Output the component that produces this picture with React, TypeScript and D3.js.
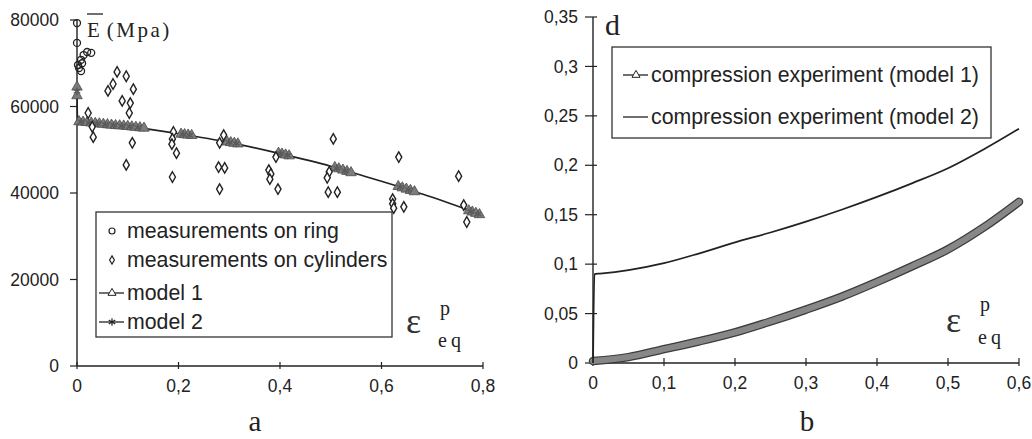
import React from 'react';
import * as d3 from 'd3';

// chart a: mean modulus vs equivalent plastic strain
const ringPoints: [number, number][] = [
  [0, 79300], [0, 74700], [0.002, 69600], [0.004, 68900], [0.008, 68200],
  [0.01, 70000], [0.013, 71900], [0.02, 72600], [0.028, 72400], [0.008, 70800],
];
const cylinderPoints: [number, number][] = [
  [0.022, 58500], [0.03, 55300], [0.032, 52900], [0.061, 63600], [0.071, 65200],
  [0.079, 68000], [0.097, 67000], [0.111, 64000], [0.089, 61300], [0.105, 60800],
  [0.103, 58500], [0.109, 51600], [0.097, 46500],
  [0.19, 54100], [0.188, 52500], [0.187, 51300], [0.196, 49200], [0.188, 43700],
  [0.289, 53400], [0.281, 51600], [0.279, 46000], [0.291, 45800], [0.281, 40900],
  [0.392, 48300], [0.378, 45300], [0.382, 44400], [0.38, 43200], [0.396, 40900],
  [0.505, 52500], [0.497, 44900], [0.493, 43500], [0.495, 40200], [0.513, 40200],
  [0.634, 48300], [0.622, 38600], [0.622, 37500], [0.624, 36500], [0.644, 36800],
  [0.752, 43900], [0.762, 37200], [0.768, 33300],
];
const modelLine: [number, number][] = [
  [0, 64500], [0.001, 56600], [0.1, 55400], [0.2, 53700], [0.3, 51700],
  [0.4, 49100], [0.5, 46200], [0.6, 42700], [0.7, 39000], [0.8, 34800],
];
const model1Markers: [number, number][] = [
  [0, 64500], [0, 62500],
  [0.004, 56500], [0.012, 56400], [0.02, 56300], [0.028, 56200], [0.036, 56100],
  [0.044, 56000], [0.052, 55900], [0.06, 55800], [0.068, 55700], [0.076, 55600],
  [0.084, 55550], [0.092, 55500], [0.1, 55400], [0.108, 55300], [0.116, 55200],
  [0.124, 55100], [0.132, 55000],
  [0.205, 53600], [0.212, 53500], [0.219, 53400], [0.226, 53300],
  [0.296, 51800], [0.303, 51650], [0.31, 51500], [0.317, 51350],
  [0.397, 49200], [0.404, 49000], [0.411, 48800], [0.418, 48600],
  [0.508, 45900], [0.516, 45600], [0.524, 45300], [0.532, 45000], [0.54, 44700],
  [0.633, 41500], [0.641, 41200], [0.649, 40900], [0.657, 40600], [0.665, 40300],
  [0.772, 35900], [0.779, 35600], [0.786, 35300], [0.793, 35000],
];
const model2Markers: [number, number][] = [
  [0, 63500],
  [0.008, 56450], [0.024, 56250], [0.04, 56050], [0.056, 55850], [0.072, 55650],
  [0.088, 55500], [0.104, 55350], [0.12, 55150],
  [0.209, 53550], [0.222, 53350],
  [0.3, 51700], [0.314, 51450],
  [0.401, 49100], [0.415, 48700],
  [0.512, 45750], [0.528, 45150],
  [0.637, 41350], [0.653, 40750],
  [0.776, 35700], [0.79, 35150],
];
const leftXTicks = [0, 0.2, 0.4, 0.6, 0.8];
const leftYTicks = [0, 20000, 40000, 60000, 80000];
const leftLegend = ['measurements on ring', 'measurements on cylinders', 'model 1', 'model 2'];

// chart b: damage d vs equivalent plastic strain
const rightModel1: [number, number][] = [
  [0, 0.002], [0.05, 0.006], [0.1, 0.014], [0.15, 0.022], [0.2, 0.031],
  [0.25, 0.042], [0.3, 0.054], [0.35, 0.067], [0.4, 0.082], [0.45, 0.098],
  [0.5, 0.115], [0.55, 0.137], [0.6, 0.163],
];
const rightModel2: [number, number][] = [
  [0, 0], [0.002, 0.09], [0.01, 0.0905], [0.05, 0.094], [0.1, 0.101],
  [0.15, 0.111], [0.2, 0.122], [0.25, 0.132], [0.3, 0.143], [0.35, 0.155],
  [0.4, 0.168], [0.45, 0.182], [0.5, 0.197], [0.55, 0.216], [0.6, 0.237],
];
const rightXTicks = [0, 0.1, 0.2, 0.3, 0.4, 0.5, 0.6];
const rightYTicks = [0, 0.05, 0.1, 0.15, 0.2, 0.25, 0.3, 0.35];
const rightLegend = ['compression experiment (model 1)', 'compression experiment (model 2)'];

const fmt = (v: number) => String(+v.toFixed(3)).replace('.', ',');
const SANS = '"Liberation Sans", Arial, sans-serif';
const SERIF = '"Liberation Serif", "Times New Roman", serif';
const INK = '#222';

const xL = d3.scaleLinear().domain([0, 0.8]).range([77, 483]);
const yL = d3.scaleLinear().domain([0, 80000]).range([366, 20]);
const xR = d3.scaleLinear().domain([0, 0.6]).range([593, 1019]);
const yR = d3.scaleLinear().domain([0, 0.35]).range([363, 17]);

const tri = d3.symbol(d3.symbolTriangle, 28)();
const triBig = d3.symbol(d3.symbolTriangle, 48)();
const dia = d3.symbol(d3.symbolDiamond, 32)();
const ast = d3.symbol((d3 as any).symbolAsterisk || d3.symbolCross, 40)();

export default function App() {
  const lineL = d3.line<[number, number]>().x(d => xL(d[0])).y(d => yL(d[1])).curve(d3.curveMonotoneX);
  const lineR = d3.line<[number, number]>().x(d => xR(d[0])).y(d => yR(d[1])).curve(d3.curveMonotoneX);

  return (
    <svg width={1032} height={439} style={{ position: 'absolute', left: 0, top: 0, background: '#fff' }}>
      {/* ---------- chart a ---------- */}
      <g>
        <line x1={xL(0)} x2={xL(0.8)} y1={yL(0)} y2={yL(0)} stroke={INK} strokeWidth={1.4} />
        <line x1={xL(0)} x2={xL(0)} y1={yL(0)} y2={yL(80000)} stroke={INK} strokeWidth={1.4} />
        {leftYTicks.map(t => (
          <g key={t}>
            <line x1={xL(0) - 7} x2={xL(0)} y1={yL(t)} y2={yL(t)} stroke={INK} strokeWidth={1.2} />
            <text x={59} y={yL(t)} dy="0.35em" textAnchor="end" fontFamily={SANS} fontSize={17.5} fill={INK}>{t}</text>
          </g>
        ))}
        {leftXTicks.map(t => (
          <g key={t}>
            <line x1={xL(t)} x2={xL(t)} y1={yL(0) - 4} y2={yL(0) + 3} stroke={INK} strokeWidth={1.2} />
            <text x={xL(t)} y={392} textAnchor="middle" fontFamily={SANS} fontSize={17.5} fill={INK}>{fmt(t)}</text>
          </g>
        ))}
        <path d={lineL(modelLine) || ''} fill="none" stroke={INK} strokeWidth={1.6} />
        {model1Markers.map((d, i) => (
          <path key={'m1' + i} d={triBig || ''} transform={`translate(${xL(d[0])},${yL(d[1])})`} fill="#7c7c7c" stroke="#4a4a4a" strokeWidth={0.8} />
        ))}
        {model2Markers.map((d, i) => (
          <path key={'m2' + i} d={ast || ''} transform={`translate(${xL(d[0])},${yL(d[1])})`} fill="none" stroke="#5a5a5a" strokeWidth={1.4} />
        ))}
        {ringPoints.map((d, i) => (
          <circle key={'r' + i} cx={xL(d[0])} cy={yL(d[1])} r={3.5} fill="none" stroke={INK} strokeWidth={1.3} />
        ))}
        {cylinderPoints.map((d, i) => (
          <path key={'c' + i} d={dia || ''} transform={`translate(${xL(d[0])},${yL(d[1])})`} fill="#fff" stroke={INK} strokeWidth={1.4} />
        ))}

        {/* legend */}
        <rect x={96} y={212} width={296} height={125} fill="#fff" stroke="#333" strokeWidth={1.3} />
        {leftLegend.map((s, i) => {
          const y = [231, 260, 293, 322][i];
          return (
            <g key={s}>
              {i === 0 && <circle cx={112} cy={y} r={3} fill="none" stroke={INK} strokeWidth={1.2} />}
              {i === 1 && <path d={d3.symbol(d3.symbolDiamond, 20)() || ''} transform={`translate(112,${y})`} fill="none" stroke={INK} strokeWidth={1.2} />}
              {i === 2 && (
                <g>
                  <line x1={99} x2={124} y1={y} y2={y} stroke={INK} strokeWidth={1.3} />
                  <path d={tri || ''} transform={`translate(112,${y})`} fill="#fff" stroke={INK} strokeWidth={1} />
                </g>
              )}
              {i === 3 && (
                <g>
                  <line x1={99} x2={124} y1={y} y2={y} stroke={INK} strokeWidth={1.3} />
                  <path d={ast || ''} transform={`translate(112,${y})`} fill="none" stroke={INK} strokeWidth={1.2} />
                </g>
              )}
              <text x={127} y={y} dy="0.35em" fontFamily={SANS} fontSize={21.3} fill={INK}>{s}</text>
            </g>
          );
        })}

        {/* axis titles */}
        <line x1={87} x2={103} y1={14} y2={14} stroke={INK} strokeWidth={1.3} />
        <text x={87} y={37} fontFamily={SERIF} fontSize={21} fill={INK}>
          E<tspan dx={7} letterSpacing={2.5}>(Mpa)</tspan>
        </text>
        <text x={406} y={333} fontFamily={SERIF} fontSize={36} fill="#333">ε</text>
        <text x={440} y={315} fontFamily={SERIF} fontSize={20} fill={INK}>p</text>
        <text x={438} y={347} fontFamily={SERIF} fontSize={20} letterSpacing={4} fill={INK}>eq</text>
        <text x={255} y={431} textAnchor="middle" fontFamily={SERIF} fontSize={29} fill={INK}>a</text>
      </g>

      {/* ---------- chart b ---------- */}
      <g>
        <line x1={xR(0)} x2={xR(0.6)} y1={yR(0)} y2={yR(0)} stroke={INK} strokeWidth={1.4} />
        <line x1={xR(0)} x2={xR(0)} y1={yR(0)} y2={yR(0.35)} stroke={INK} strokeWidth={1.4} />
        {rightYTicks.map(t => (
          <g key={t}>
            <line x1={xR(0) - 8} x2={xR(0) + 4} y1={yR(t)} y2={yR(t)} stroke={INK} strokeWidth={1.2} />
            <text x={578} y={yR(t)} dy="0.35em" textAnchor="end" fontFamily={SANS} fontSize={17.5} fill={INK}>{fmt(t)}</text>
          </g>
        ))}
        {rightXTicks.map(t => (
          <g key={t}>
            <line x1={xR(t)} x2={xR(t)} y1={yR(0) - 5} y2={yR(0) + 3} stroke={INK} strokeWidth={1.2} />
            <text x={xR(t)} y={389} textAnchor="middle" fontFamily={SANS} fontSize={17.5} fill={INK}>{fmt(t)}</text>
          </g>
        ))}
        <path d={lineR(rightModel1) || ''} fill="none" stroke="#3c3c3c" strokeWidth={8.5} strokeLinecap="round" />
        <path d={lineR(rightModel1) || ''} fill="none" stroke="#878787" strokeWidth={6} strokeLinecap="round" />
        <path d={lineR(rightModel2) || ''} fill="none" stroke={INK} strokeWidth={1.8} />

        {/* legend */}
        <rect x={612} y={47} width={379} height={91} fill="#fff" stroke="#333" strokeWidth={1.3} />
        {rightLegend.map((s, i) => {
          const y = [75, 117][i];
          return (
            <g key={s}>
              <line x1={623} x2={648} y1={y} y2={y} stroke={INK} strokeWidth={1.3} />
              {i === 0 && <path d={tri || ''} transform={`translate(636,${y})`} fill="#fff" stroke={INK} strokeWidth={1} />}
              <text x={651} y={y} dy="0.35em" fontFamily={SANS} fontSize={21.3} fill={INK}>{s}</text>
            </g>
          );
        })}

        <text x={605} y={35} fontFamily={SERIF} fontSize={30} fill={INK}>d</text>
        <text x={946} y={332} fontFamily={SERIF} fontSize={36} fill="#333">ε</text>
        <text x={980} y={311} fontFamily={SERIF} fontSize={20} fill={INK}>p</text>
        <text x={978} y={344} fontFamily={SERIF} fontSize={20} letterSpacing={4} fill={INK}>eq</text>
        <text x={807} y={431} textAnchor="middle" fontFamily={SERIF} fontSize={29} fill={INK}>b</text>
      </g>
    </svg>
  );
}
